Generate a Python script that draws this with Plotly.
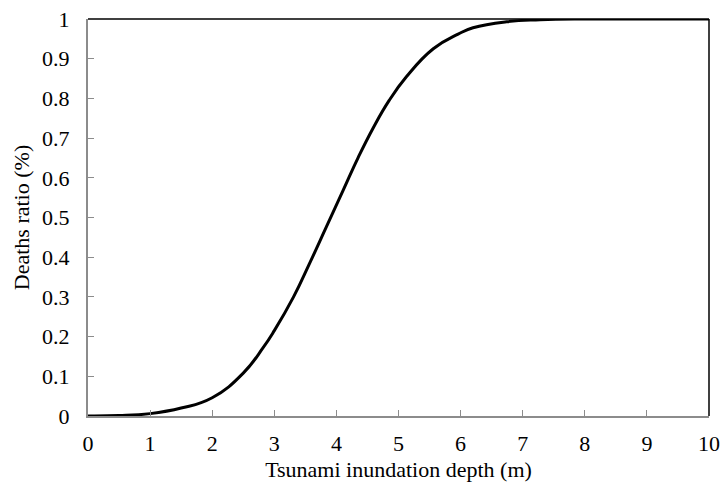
import plotly.graph_objects as go

depth_m = [0, 0.5, 1, 1.5, 2, 2.5, 2.82, 3, 3.31, 3.57, 3.84, 4.11, 4.35, 4.59,
           4.85, 5.13, 5.56, 5.96, 6.2, 6.74, 7.28, 8, 9, 10]
death_ratio = [0, 0.001, 0.006, 0.02, 0.046, 0.108, 0.172, 0.215, 0.30, 0.385, 0.477,
               0.569, 0.651, 0.725, 0.795, 0.855, 0.925, 0.962, 0.978, 0.993, 0.998,
               1, 1, 1]

x_ticks = list(range(0, 11))
y_ticks = [0, 0.1, 0.2, 0.3, 0.4, 0.5, 0.6, 0.7, 0.8, 0.9, 1]
y_tick_text = ["0", "0.1", "0.2", "0.3", "0.4", "0.5", "0.6", "0.7", "0.8", "0.9", "1"]

font_family = "Liberation Serif, DejaVu Serif, serif"

fig = go.Figure()
fig.add_trace(go.Scatter(
    x=depth_m, y=death_ratio, mode="lines",
    line=dict(color="black", width=3, shape="spline", smoothing=1.3),
    showlegend=False, cliponaxis=False,
))

fig.update_layout(
    width=724, height=484,
    margin=dict(l=88, r=15, t=19, b=68),
    paper_bgcolor="white", plot_bgcolor="white",
    font=dict(family=font_family, size=22, color="black"),
    xaxis=dict(
        range=[0, 10], tickvals=x_ticks, ticks="inside", ticklen=6,
        tickcolor="#8c8c8c", tickwidth=1, showgrid=False, zeroline=False,
        showline=True, linecolor="#8c8c8c", linewidth=2, automargin=False,
        tickfont=dict(family=font_family, size=22),
        title=dict(text="Tsunami inundation depth (m)", standoff=6,
                   font=dict(family=font_family, size=22)),
        ticklabelstandoff=7,
    ),
    yaxis=dict(
        range=[0, 1], tickvals=y_ticks, ticktext=y_tick_text, ticks="inside",
        ticklen=6, tickcolor="#8c8c8c", tickwidth=1, showgrid=False,
        zeroline=False, showline=True, linecolor="#8c8c8c", linewidth=2,
        automargin=False,
        tickfont=dict(family=font_family, size=22),
        title=dict(text="Deaths ratio (%)", standoff=6,
                   font=dict(family=font_family, size=22)),
        ticklabelstandoff=12,
    ),
)

# top and right frame lines of the plot area
fig.add_shape(type="line", xref="paper", yref="paper", x0=0, x1=1, y0=1, y1=1,
              line=dict(color="black", width=1.5), layer="below")
fig.add_shape(type="line", xref="paper", yref="paper", x0=1, x1=1, y0=0, y1=1,
              line=dict(color="black", width=1.5), layer="below")

fig.write_html("out.html")
